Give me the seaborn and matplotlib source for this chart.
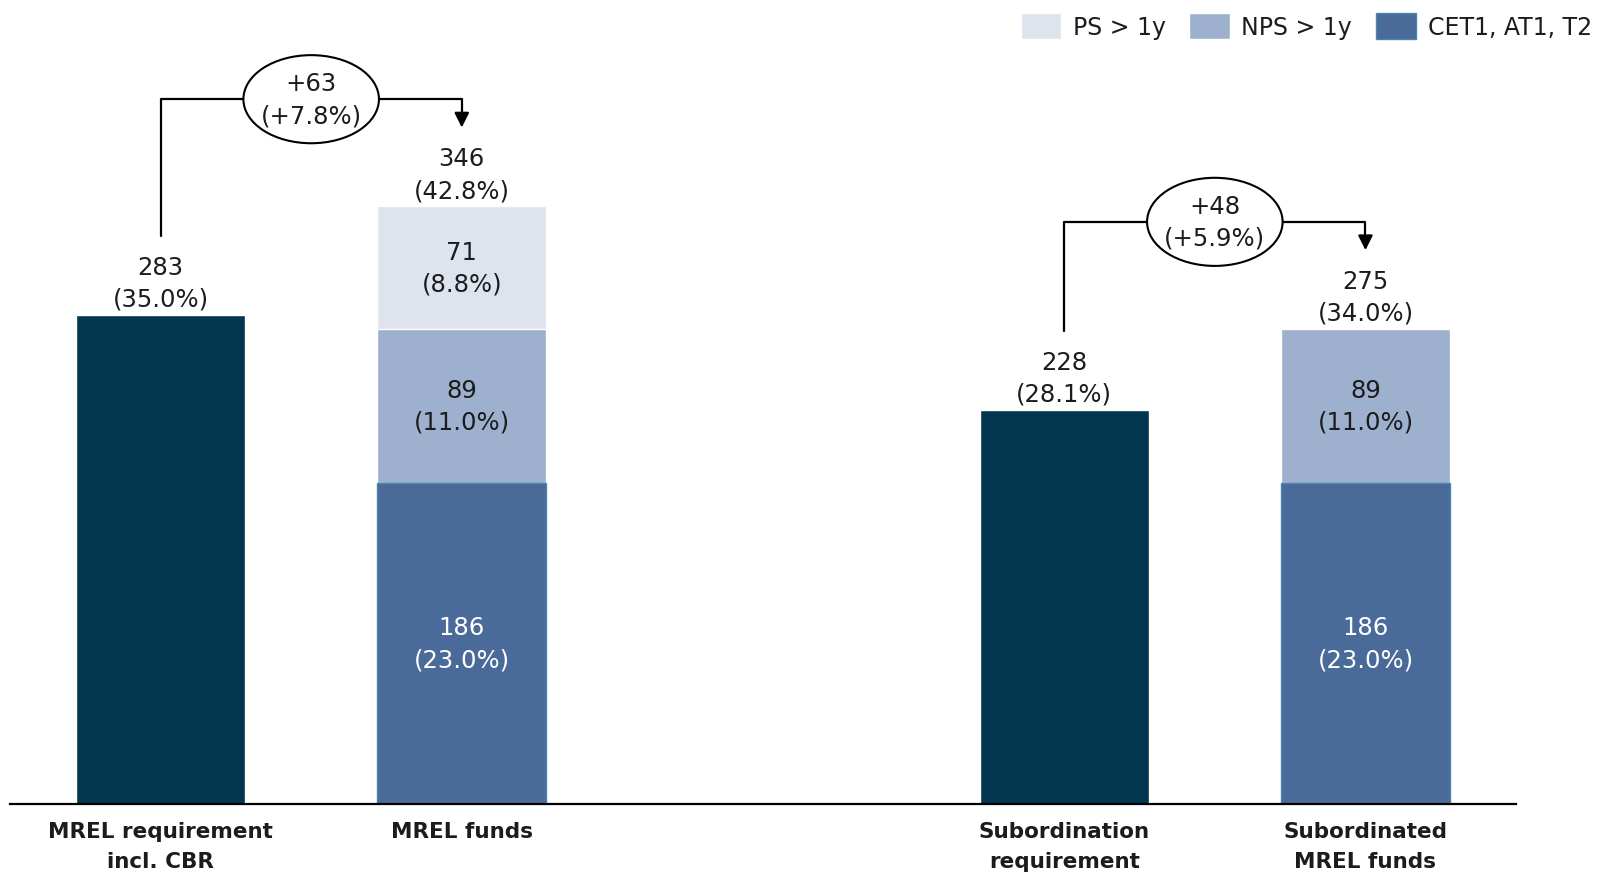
import matplotlib
matplotlib.use('Agg')
import matplotlib.pyplot as plt
from matplotlib.patches import Ellipse, Patch
import seaborn as sns
import pandas as pd

# data
categories = ['MREL requirement\nincl. CBR', 'MREL funds', ' ',
              'Subordination\nrequirement', 'Subordinated\nMREL funds']
req_cats = ['MREL requirement\nincl. CBR', 'Subordination\nrequirement']
req_vals = [283, 228]
req_pcts = [35.0, 28.1]

fund_cats = ['MREL funds', 'Subordinated\nMREL funds']
cet1_vals = [186, 186]
cet1_pcts = [23.0, 23.0]
nps_vals = [89, 89]
nps_pcts = [11.0, 11.0]
ps_vals = [71, 0]
ps_pcts = [8.8, 0.0]
fund_totals = [346, 275]
fund_total_pcts = [42.8, 34.0]

delta_vals = [63, 48]
delta_pcts = [7.8, 5.9]

series_names = ['PS > 1y', 'NPS > 1y', 'CET1, AT1, T2']
c_req = '#02374f'
c_cet1 = '#4a6a99'
c_nps = '#9db0ce'
c_ps = '#dee4ee'
txt = '#1c1c1c'

sns.set_style('white')
plt.rcParams['font.family'] = ['DejaVu Sans']

fig = plt.figure(figsize=(16.06, 8.78), dpi=100)
ax = fig.add_axes([0.0062, 0.0831, 0.9378, 0.9169])

# stacked bars: draw the cumulative totals back to front
df_f = pd.DataFrame({'cat': fund_cats, 'cet1': cet1_vals, 'nps': nps_vals, 'ps': ps_vals})
df_f['lvl2'] = df_f['cet1'] + df_f['nps']
df_f['lvl3'] = df_f['lvl2'] + df_f['ps']
df_r = pd.DataFrame({'cat': req_cats, 'val': req_vals})

w = 0.56
sns.barplot(data=df_f, x='cat', y='lvl3', order=categories, color=c_ps,
            saturation=1, width=w, errorbar=None, ax=ax)
sns.barplot(data=df_f, x='cat', y='lvl2', order=categories, color=c_nps,
            saturation=1, width=w, errorbar=None, ax=ax)
sns.barplot(data=df_f, x='cat', y='cet1', order=categories, color=c_cet1,
            saturation=1, width=w, errorbar=None, ax=ax, edgecolor='#4d86ad', linewidth=1)
sns.barplot(data=df_r, x='cat', y='val', order=categories, color=c_req,
            saturation=1, width=w, errorbar=None, ax=ax)

ax.set_xlim(-0.5, 4.5)
ax.set_ylim(0, 466)

fs = 17.5
ls = 1.42
# labels on top of bars
for cat, v, p in zip(req_cats, req_vals, req_pcts):
    ax.annotate(f'{v}\n({p:.1f}%)', (categories.index(cat), v), xytext=(0, 3),
                textcoords='offset points', ha='center', va='bottom',
                fontsize=fs, color=txt, linespacing=ls)
for cat, v, p in zip(fund_cats, fund_totals, fund_total_pcts):
    ax.annotate(f'{v}\n({p:.1f}%)', (categories.index(cat), v), xytext=(0, 3),
                textcoords='offset points', ha='center', va='bottom',
                fontsize=fs, color=txt, linespacing=ls)

# labels inside segments
for i, cat in enumerate(fund_cats):
    x = categories.index(cat)
    base = 0
    for v, p, col in [(cet1_vals[i], cet1_pcts[i], 'white'),
                      (nps_vals[i], nps_pcts[i], txt),
                      (ps_vals[i], ps_pcts[i], txt)]:
        if v > 0:
            ax.text(x, base + v / 2, f'{v}\n({p:.1f}%)', ha='center', va='center',
                    fontsize=fs, color=col, linespacing=ls)
        base += v

# brackets with change ellipses
for i in range(2):
    x0 = categories.index(req_cats[i])
    x1 = categories.index(fund_cats[i])
    y0 = req_vals[i] + 46
    yh = fund_totals[i] + 62
    tip = fund_totals[i] + 44
    ax.plot([x0, x0, x1, x1], [y0, yh, yh, tip + 6], color='black', lw=1.6, zorder=2)
    ax.annotate('', xy=(x1, tip), xytext=(x1, tip + 8),
                arrowprops=dict(arrowstyle='-|>', color='black', lw=1.6, mutation_scale=22),
                zorder=2)
    xc = (x0 + x1) / 2
    ax.add_patch(Ellipse((xc, yh), width=0.45, height=51, facecolor='white',
                         edgecolor='black', lw=1.5, zorder=3))
    ax.text(xc, yh, f'+{delta_vals[i]}\n(+{delta_pcts[i]:.1f}%)', ha='center',
            va='center', fontsize=fs, color=txt, linespacing=ls, zorder=4)

# axes styling
sns.despine(ax=ax, left=True)
ax.spines['bottom'].set_color('black')
ax.spines['bottom'].set_linewidth(1.6)
ax.set_yticks([])
ax.set_xlabel('')
ax.set_ylabel('')
ax.tick_params(axis='x', length=0, pad=12)
for lab in ax.get_xticklabels():
    lab.set_fontweight('bold')
    lab.set_fontsize(15.5)
    lab.set_color(txt)
    lab.set_linespacing(1.65)

handles = [Patch(facecolor=c_ps), Patch(facecolor=c_nps),
           Patch(facecolor=c_cet1, edgecolor='#4d86ad')]
fig.legend(handles, series_names, loc='upper right', bbox_to_anchor=(1.0, 1.0),
           ncol=3, frameon=False, fontsize=17, handlelength=1.7, handleheight=1.3,
           handletextpad=0.5, columnspacing=1.0, labelcolor=txt, borderaxespad=0.2)

fig.savefig('out.png', dpi=100)
